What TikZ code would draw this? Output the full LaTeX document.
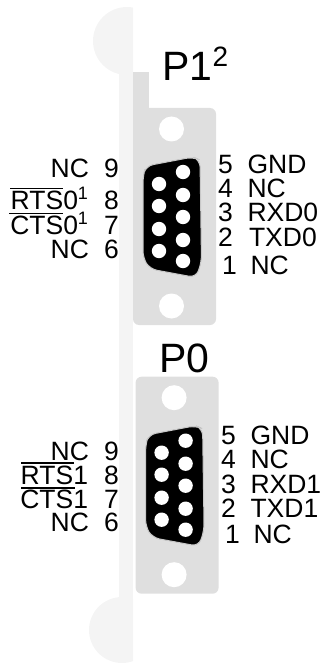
\documentclass[tikz,border=0pt]{standalone}
\usepackage{fontspec}
\setmainfont{Liberation Sans}
\definecolor{strip}{HTML}{F4F4F4}
\definecolor{plate}{HTML}{DFDFDF}
\definecolor{halo}{HTML}{C8C8C8}
\newcommand{\supx}[2][10pt]{\raisebox{#1}{\fontsize{18}{18}\selectfont #2}}
\tikzset{
 lbl/.style={inner sep=0pt,outer sep=0pt,anchor=base west,font=\fontsize{26.5}{26.5}\selectfont,text=black},
 lblr/.style={lbl,anchor=base east},
 big/.style={lbl,font=\fontsize{41}{41}\selectfont},
 hole/.style={fill=white,draw=none},
 bar/.style={draw=black,line width=1.3pt},
 connector/.pic={
  \fill[plate,rounded corners=6] (133,108) rectangle (216,325);
  \fill[hole] (171.5,129) circle (12.5);
  \fill[hole] (171.5,306) circle (12.5);
  \path[fill=black,draw=halo,line width=1pt,rounded corners=7]
    (143,176) -- (146,166) -- (193,157) -- (200,160) -- (201.5,262) -- (196,277.5) -- (150,269) -- (143,258) -- cycle;
  \foreach \yy in {172,195,217,240,261}{\fill[hole] (183,\yy) circle (7.2);}
  \foreach \yy in {184,206,229,251}{\fill[hole] (159,\yy) circle (7.2);}
 }
}
\begin{document}
\begin{tikzpicture}[x=1pt,y=-1pt]
\useasboundingbox (0,0) rectangle (320,663);
% bracket
\fill[strip] (119,60) rectangle (133,620);
\begin{scope}
 \clip (60,0) rectangle (133,663);
 \fill[strip] (127,41) circle (34);
 \fill[strip] (122,630) circle (33);
\end{scope}
\fill[plate] (133,72) rectangle (149,115);
\pic at (0,0) {connector};
\pic at (2.6,268.7) {connector};
% P1
\node[big] (pone) at (162,81) {P1};
\node[lbl,font=\fontsize{28}{28}\selectfont] (ponesup) at (212.5,66.5) {2};
\node[big] (pzero) at (159,372) {P0};
% upper left
\node[lblr] (a9) at (89,178) {NC};
\node[lbl] (n9a) at (104,178) {9};
\node[lblr] (a8) at (88,209) {RTS0\supx{1}};
\node[lbl] (n8a) at (104,209) {8};
\node[lblr] (a7) at (88,234) {CTS0\supx{1}};
\node[lbl] (n7a) at (104,234) {7};
\node[lblr] (a6) at (89,258) {NC};
\node[lbl] (n6a) at (104,258) {6};
\draw[bar] (10,188.5) -- (63,188.5);
\draw[bar] (9,213.5) -- (63,213.5);
% upper right
\node[lbl] (n5a) at (218,173) {5};
\node[lbl] (b5) at (247.5,173) {GND};
\node[lbl] (n4a) at (218,197) {4};
\node[lbl] (b4) at (247.5,197) {NC};
\node[lbl] (n3a) at (218,221) {3};
\node[lbl] (b3) at (247.5,221) {RXD0};
\node[lbl] (n2a) at (218,246) {2};
\node[lbl] (b2) at (249,246) {TXD0};
\node[lbl] (n1a) at (222,274) {1};
\node[lbl] (b1) at (250.5,274) {NC};
% lower left
\node[lblr] (c9) at (89,460) {NC};
\node[lbl] (n9b) at (104,460) {9};
\node[lblr] (c8) at (88,484) {RTS1};
\node[lbl] (n8b) at (104,484) {8};
\node[lblr] (c7) at (88,508) {CTS1};
\node[lbl] (n7b) at (104,508) {7};
\node[lblr] (c6) at (89,531) {NC};
\node[lbl] (n6b) at (104,531) {6};
\draw[bar] (21,463) -- (74,463);
\draw[bar] (21,488) -- (75,488);
% lower right
\node[lbl] (n5b) at (221,444) {5};
\node[lbl] (d5) at (250.5,444) {GND};
\node[lbl] (n4b) at (221,468) {4};
\node[lbl] (d4) at (250.5,468) {NC};
\node[lbl] (n3b) at (221,493) {3};
\node[lbl] (d3) at (250.5,493) {RXD1};
\node[lbl] (n2b) at (221,517) {2};
\node[lbl] (d2) at (250.5,517) {TXD1};
\node[lbl] (n1b) at (225,543) {1};
\node[lbl] (d1) at (253.5,543) {NC};
\end{tikzpicture}
\end{document}
